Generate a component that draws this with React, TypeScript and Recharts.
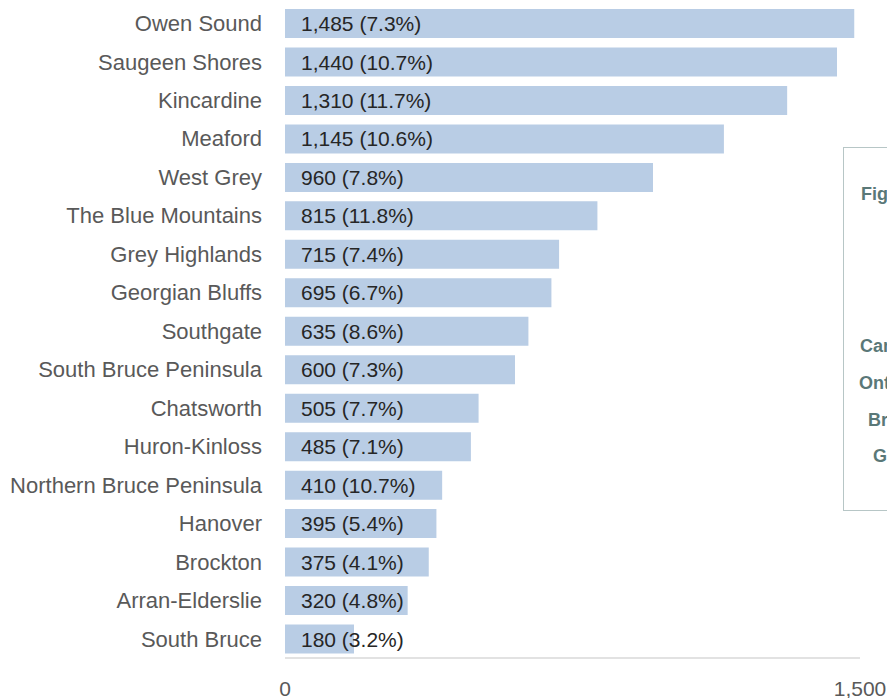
import React from 'react';
import { BarChart, Bar, XAxis, YAxis, LabelList } from 'recharts';

const categories = [
  'Owen Sound', 'Saugeen Shores', 'Kincardine', 'Meaford', 'West Grey',
  'The Blue Mountains', 'Grey Highlands', 'Georgian Bluffs', 'Southgate',
  'South Bruce Peninsula', 'Chatsworth', 'Huron-Kinloss', 'Northern Bruce Peninsula',
  'Hanover', 'Brockton', 'Arran-Elderslie', 'South Bruce',
];
const values = [1485, 1440, 1310, 1145, 960, 815, 715, 695, 635, 600, 505, 485, 410, 395, 375, 320, 180];
const shares = [7.3, 10.7, 11.7, 10.6, 7.8, 11.8, 7.4, 6.7, 8.6, 7.3, 7.7, 7.1, 10.7, 5.4, 4.1, 4.8, 3.2];
const xTicks = [0, 1500];
const boxLines = ['Figure', 'Canada', 'Ontario', 'Bruce', 'Grey'];

const data = categories.map((name, i) => ({
  name,
  value: values[i],
  label: `${values[i].toLocaleString('en-US')} (${shares[i].toFixed(1)}%)`,
}));

const FONT = '"Liberation Sans", Arial, sans-serif';

const ValueLabel = (props: any) => {
  const { x, y, height, value } = props;
  return (
    <text x={x + 16} y={y + height / 2} dy="0.36em" fill="#262626" fontSize={21} fontFamily={FONT}>
      {value}
    </text>
  );
};

export default function App() {
  const boxTops = [182, 334, 371, 408, 444];
  const boxLefts = [861, 860, 859, 868, 873];
  return (
    <div style={{ position: 'absolute', left: 0, top: 0, width: 887, height: 698, overflow: 'hidden', background: '#fff' }}>
      <BarChart
        width={887}
        height={698}
        data={data}
        layout="vertical"
        margin={{ top: 4, right: 27, bottom: 0, left: 0 }}
        barCategoryGap={9}
      >
        <XAxis
          type="number"
          domain={[0, 1500]}
          ticks={xTicks}
          interval={0}
          tickFormatter={(v: number) => v.toLocaleString('en-US')}
          axisLine={{ stroke: '#d9d9d9', strokeWidth: 1.5 }}
          tickLine={false}
          tickSize={0}
          tickMargin={23}
          height={40}
          tick={{ fill: '#595959', fontSize: 21, fontFamily: FONT }}
        />
        <YAxis
          type="category"
          dataKey="name"
          width={285}
          axisLine={false}
          tickLine={false}
          tickSize={0}
          tickMargin={23}
          interval={0}
          tick={{ fill: '#595959', fontSize: 22, fontFamily: FONT }}
        />
        <Bar dataKey="value" fill="#b9cde5" barSize={29} isAnimationActive={false}>
          <LabelList dataKey="label" content={ValueLabel} />
        </Bar>
      </BarChart>
      <div
        style={{
          position: 'absolute',
          left: 843,
          top: 147,
          width: 200,
          height: 364,
          border: '1.5px solid #b7c6c6',
          background: '#fff',
          boxSizing: 'border-box',
        }}
      />
      {boxLines.map((t, i) => (
        <div
          key={t}
          style={{
            position: 'absolute',
            left: boxLefts[i],
            top: boxTops[i],
            fontFamily: FONT,
            fontWeight: 'bold',
            fontSize: 18,
            color: '#5a7878',
            whiteSpace: 'nowrap',
            lineHeight: '24px',
          }}
        >
          {t}
        </div>
      ))}
    </div>
  );
}
